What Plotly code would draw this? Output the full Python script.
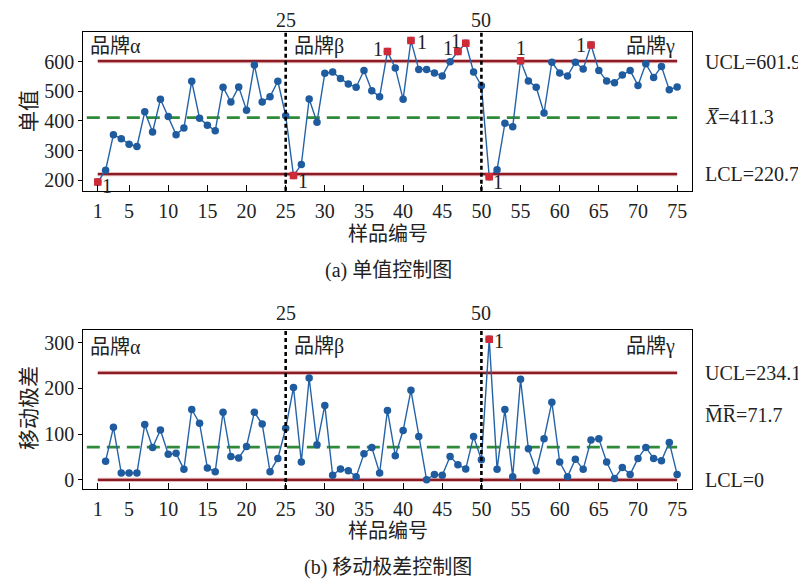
import plotly.graph_objects as go

# ---------------- data ----------------
samples = list(range(1, 76))
individual_values = [194, 234, 354, 340, 322, 314, 431, 363, 473, 415,
                     354, 376, 534, 409, 386, 367, 514, 464, 515, 436,
                     589, 464, 482, 534, 418, 216, 253, 474, 396, 561,
                     565, 543, 525, 514, 570, 502, 482, 634, 579, 473,
                     671, 574, 574, 562, 552, 600, 634, 662, 565, 519,
                     212, 236, 392, 381, 603, 535, 514, 427, 598, 562,
                     552, 598, 575, 656, 570, 535, 529, 555, 570, 520,
                     593, 547, 584, 505, 515]
mr_samples = list(range(2, 76))
moving_ranges = [41, 115, 15, 15, 15, 121, 71, 109, 56,
                 58, 23, 154, 124, 26, 18, 148, 51, 48, 73,
                 148, 122, 18, 47, 113, 202, 39, 223, 77, 163,
                 10, 24, 20, 7, 57, 71, 15, 152, 53, 108,
                 196, 95, 0, 12, 10, 51, 33, 24, 95, 44,
                 308, 23, 154, 7, 220, 68, 20, 90, 170, 39,
                 7, 45, 23, 87, 90, 39, 3, 27, 12, 47,
                 71, 47, 42, 82, 12]
i_ucl, i_cl, i_lcl = 601.9, 411.3, 220.7
mr_ucl, mr_cl, mr_lcl = 234.1, 71.7, 0
i_ooc = [1, 26, 38, 41, 47, 48, 51, 55, 64]
mr_ooc = [51]
brand_breaks = [25, 50]
brands = ["品牌α", "品牌β", "品牌γ"]
x_ticks = [1, 5, 10, 15, 20, 25, 30, 35, 40, 45, 50, 55, 60, 65, 70, 75]

# label offsets (style) for the "1" flags
i_flag_shift = {1: (9, -4), 26: (9, -5), 38: (-9, 3), 41: (11, -1), 47: (-10, 4),
                48: (-10, 2), 51: (9, -5), 55: (0, 13), 64: (-10, 0)}
mr_flag_shift = {51: (10, -2)}

# ---------------- style ----------------
# the page body has an 8px default margin, so the figure is drawn offset by 8px
OFF = 8
W, H = 806 - OFF, 583 - OFF


def px(x):
    return (x - OFF) / W


def py(y):
    return 1 - (y - OFF) / H


SERIF = "Liberation Serif, Times New Roman, Noto Sans CJK SC, serif"
BLUE_LINE = "#2563a8"
BLUE_MK = "#1f5b9f"
RED = "#cf2b37"
DARK_RED = "#8c1c24"
HALO = "rgba(205,130,135,0.55)"
GREEN = "#2f8a3a"

xl, xr = px(83.3), px(692)
top_dom = [py(190.7), py(32.3)]
bot_dom = [py(489), py(330)]
x_range = [-0.85, 76.9]

fig = go.Figure()


def add_panel(xs, ys, ooc, xa, ya):
    fig.add_trace(go.Scatter(x=xs, y=ys, mode="lines+markers", xaxis=xa, yaxis=ya,
                             line=dict(color=BLUE_LINE, width=1.4),
                             marker=dict(color=BLUE_MK, size=7.5, symbol="circle"),
                             showlegend=False, hoverinfo="skip"))
    ox = [x for x in ooc]
    oy = [ys[xs.index(x)] for x in ooc]
    fig.add_trace(go.Scatter(x=ox, y=oy, mode="markers", xaxis=xa, yaxis=ya,
                             marker=dict(color=RED, size=7.5, symbol="square"),
                             showlegend=False, hoverinfo="skip"))


def limit_lines(xa, ya, ucl, cl, lcl):
    for v in (ucl, lcl):
        fig.add_trace(go.Scatter(x=[samples[0], samples[-1]], y=[v, v], mode="lines",
                                 xaxis=xa, yaxis=ya, line=dict(color=HALO, width=4.2),
                                 showlegend=False, hoverinfo="skip"))
        fig.add_trace(go.Scatter(x=[samples[0], samples[-1]], y=[v, v], mode="lines",
                                 xaxis=xa, yaxis=ya, line=dict(color=DARK_RED, width=2.2),
                                 showlegend=False, hoverinfo="skip"))
    fig.add_trace(go.Scatter(x=[-0.4, samples[-1]], y=[cl, cl], mode="lines",
                             xaxis=xa, yaxis=ya,
                             line=dict(color=GREEN, width=2.6, dash="13px,7px"),
                             showlegend=False, hoverinfo="skip"))


limit_lines("x", "y", i_ucl, i_cl, i_lcl)
limit_lines("x2", "y2", mr_ucl, mr_cl, mr_lcl)
add_panel(samples, individual_values, i_ooc, "x", "y")
add_panel(mr_samples, moving_ranges, mr_ooc, "x2", "y2")

# vertical brand separators
shapes = []
for xa, ya in (("x", "y"), ("x2", "y2")):
    for b in brand_breaks:
        shapes.append(dict(type="line", xref=xa, yref=f"{ya} domain", x0=b, x1=b, y0=0, y1=1,
                           line=dict(color="black", width=2.6, dash="4px,3px"), layer="above"))

axis_common = dict(showgrid=False, zeroline=False, showline=True, mirror=True,
                   linecolor="black", linewidth=1.3, automargin=False,
                   tickfont=dict(family=SERIF, size=20, color="#222"))

ann = []
font_txt = dict(family=SERIF, size=20, color="#222")

# flags
for idx in i_ooc:
    sx, sy = i_flag_shift[idx]
    ann.append(dict(x=idx, y=individual_values[samples.index(idx)], xref="x", yref="y",
                    text="1", showarrow=False, xshift=sx, yshift=sy, font=font_txt,
                    xanchor="center", yanchor="middle"))
for idx in mr_ooc:
    sx, sy = mr_flag_shift[idx]
    ann.append(dict(x=idx, y=moving_ranges[mr_samples.index(idx)], xref="x2", yref="y2",
                    text="1", showarrow=False, xshift=sx, yshift=sy, font=font_txt,
                    xanchor="center", yanchor="middle"))

# break labels above each panel
for xa, ypix in (("x", 19.5), ("x2", 313)):
    for b in brand_breaks:
        ann.append(dict(x=b, y=py(ypix), xref=xa, yref="paper", text=str(b),
                        showarrow=False, font=font_txt, xanchor="center", yanchor="middle"))

# brand names
for ypix in (46, 347):
    yp = py(ypix)
    ann.append(dict(x=px(88), y=yp, xref="paper", yref="paper", text=brands[0],
                    xanchor="left", yanchor="middle", showarrow=False, font=font_txt))
    ann.append(dict(x=px(292), y=yp, xref="paper", yref="paper", text=brands[1],
                    xanchor="left", yanchor="middle", showarrow=False, font=font_txt))
    ann.append(dict(x=px(677), y=yp, xref="paper", yref="paper", text=brands[2],
                    xanchor="right", yanchor="middle", showarrow=False, font=font_txt))

# right-hand limit labels
lab_font = dict(family=SERIF, size=20, color="#222")
right_labels = [
    (62, f"UCL={i_ucl}"), (117, f"<i>X\u0305</i>={i_cl}"), (174, f"LCL={i_lcl}"),
    (373, f"UCL={mr_ucl}"), (415, f"M\u0305R\u0305={mr_cl}"), (480, f"LCL={mr_lcl}"),
]
for ypix, t in right_labels:
    ann.append(dict(x=px(703), y=py(ypix), xref="paper", yref="paper", text=t,
                    xanchor="left", yanchor="middle", showarrow=False, font=lab_font))

# axis titles and captions
ann += [
    dict(x=px(29), y=py(111), xref="paper", yref="paper", text="单值", textangle=-90,
         showarrow=False, font=dict(family=SERIF, size=21, color="#222"),
         xanchor="center", yanchor="middle"),
    dict(x=px(29), y=py(408), xref="paper", yref="paper", text="移动极差", textangle=-90,
         showarrow=False, font=dict(family=SERIF, size=21, color="#222"),
         xanchor="center", yanchor="middle"),
    dict(x=(xl + xr) / 2, y=py(234), xref="paper", yref="paper", text="样品编号",
         showarrow=False, font=font_txt, xanchor="center", yanchor="middle"),
    dict(x=(xl + xr) / 2, y=py(531), xref="paper", yref="paper", text="样品编号",
         showarrow=False, font=font_txt, xanchor="center", yanchor="middle"),
    dict(x=px(388), y=py(270), xref="paper", yref="paper", text="(a) 单值控制图",
         showarrow=False, font=font_txt, xanchor="center", yanchor="middle"),
    dict(x=px(388), y=py(567), xref="paper", yref="paper", text="(b) 移动极差控制图",
         showarrow=False, font=font_txt, xanchor="center", yanchor="middle"),
]

fig.update_layout(
    width=W, height=H, margin=dict(l=0, r=0, t=0, b=0, autoexpand=False),
    paper_bgcolor="white", plot_bgcolor="white",
    showlegend=False,
    xaxis=dict(domain=[xl, xr], range=x_range, anchor="y", tickvals=x_ticks,
               ticks="inside", ticklen=6, tickcolor="black", ticklabelstandoff=2,
               **axis_common),
    yaxis=dict(domain=top_dom, range=[165, 699], anchor="x", tickvals=[200, 300, 400, 500, 600],
               ticks="outside", ticklen=4, tickcolor="black", **axis_common),
    xaxis2=dict(domain=[xl, xr], range=x_range, anchor="y2", tickvals=x_ticks,
                ticks="inside", ticklen=6, tickcolor="black", ticklabelstandoff=2,
                **axis_common),
    yaxis2=dict(domain=bot_dom, range=[-20, 328], anchor="x2", tickvals=[0, 100, 200, 300],
                ticks="outside", ticklen=4, tickcolor="black", **axis_common),
    shapes=shapes,
    annotations=ann,
)

fig.write_html("out.html")
